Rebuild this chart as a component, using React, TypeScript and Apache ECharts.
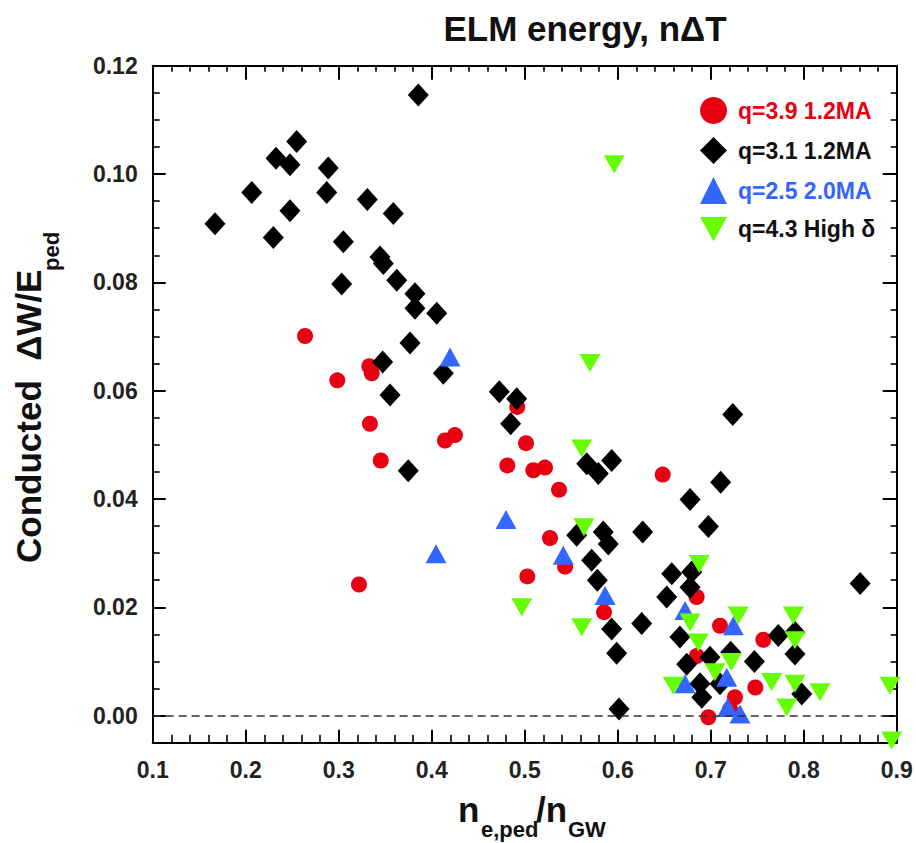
import React, { useEffect, useRef } from "react";
import * as echarts from "echarts";

const FONT = "'Liberation Sans', Arial, Helvetica, sans-serif";

const xTickLabels = ["0.1", "0.2", "0.3", "0.4", "0.5", "0.6", "0.7", "0.8", "0.9"];
const yMajorTicks = [0, 0.02, 0.04, 0.06, 0.08, 0.1, 0.12];
const yMinorTicks = [
  -0.005, 0.005, 0.01, 0.015, 0.025, 0.03, 0.035, 0.045, 0.05, 0.055, 0.065, 0.07,
  0.075, 0.085, 0.09, 0.095, 0.105, 0.11, 0.115,
];

const seriesNames = ["q=3.9 1.2MA", "q=3.1 1.2MA", "q=2.5 2.0MA", "q=4.3 High δ"];

// q=3.9 1.2MA (red circles)
const q39Points: [number, number][] = [
  [0.2638, 0.0701], [0.2985, 0.0619], [0.3329, 0.0645], [0.3355, 0.0632],
  [0.3336, 0.0539], [0.3452, 0.0471], [0.4143, 0.0508], [0.425, 0.0518],
  [0.3218, 0.0242], [0.492, 0.057], [0.5014, 0.0503], [0.4813, 0.0462],
  [0.5093, 0.0453], [0.5218, 0.0458], [0.5369, 0.0417], [0.6484, 0.0445],
  [0.5272, 0.0328], [0.5434, 0.0275], [0.5028, 0.0257], [0.5853, 0.0191],
  [0.6849, 0.0219], [0.71, 0.0166], [0.7566, 0.014], [0.685, 0.011],
  [0.7261, 0.0034], [0.748, 0.0052], [0.6975, -0.0003], [0.7208, 0.0012],
];

// q=3.1 1.2MA (black diamonds)
const q31Points: [number, number][] = [
  [0.3856, 0.1146], [0.2548, 0.106], [0.2326, 0.1029], [0.2476, 0.1017],
  [0.2888, 0.1011], [0.2065, 0.0966], [0.2871, 0.0966], [0.2476, 0.0932],
  [0.3308, 0.0953], [0.3587, 0.0927], [0.167, 0.0908], [0.2297, 0.0883],
  [0.305, 0.0875], [0.3444, 0.0847], [0.348, 0.0835], [0.3032, 0.0797],
  [0.3624, 0.0804], [0.382, 0.0779], [0.382, 0.0752], [0.4054, 0.0743],
  [0.3767, 0.0688], [0.3473, 0.0653], [0.4125, 0.0632], [0.3552, 0.0592],
  [0.3748, 0.0452], [0.4727, 0.0598], [0.4914, 0.0585], [0.4849, 0.0539],
  [0.7237, 0.0556], [0.5667, 0.0465], [0.5792, 0.0447], [0.5935, 0.0471],
  [0.7107, 0.0431], [0.6778, 0.0399], [0.6975, 0.0349], [0.6269, 0.0339],
  [0.5559, 0.0333], [0.5845, 0.0339], [0.5899, 0.0317], [0.572, 0.0287],
  [0.5781, 0.025], [0.5935, 0.016], [0.5989, 0.0115], [0.6258, 0.017],
  [0.6014, 0.0012], [0.6581, 0.0262], [0.6796, 0.0265], [0.6778, 0.0237],
  [0.6527, 0.0219], [0.6669, 0.0145], [0.6742, 0.0095], [0.6992, 0.0108],
  [0.7215, 0.0117], [0.747, 0.01], [0.6885, 0.0059], [0.71, 0.0059],
  [0.6904, 0.0034], [0.8607, 0.0244], [0.7727, 0.0148], [0.7906, 0.0154],
  [0.7906, 0.0114], [0.7979, 0.004],
];

// q=2.5 2.0MA (blue triangles)
const q25Points: [number, number][] = [
  [0.4197, 0.0662], [0.4046, 0.0299], [0.4799, 0.0362], [0.5415, 0.0296],
  [0.5864, 0.0222], [0.6724, 0.0194], [0.7243, 0.0166], [0.6724, 0.0059],
  [0.7172, 0.0071], [0.7182, 0.0015], [0.7315, 0.0003],
];

// q=4.3 High δ (green down triangles)
const q43Points: [number, number][] = [
  [0.5963, 0.1018], [0.5702, 0.0651], [0.5613, 0.0493], [0.5637, 0.0348],
  [0.6877, 0.028], [0.4968, 0.02], [0.5613, 0.0163], [0.6778, 0.0172],
  [0.7297, 0.0185], [0.6867, 0.0135], [0.7222, 0.0099], [0.7046, 0.008],
  [0.6598, 0.0055], [0.7656, 0.0062], [0.7888, 0.0185], [0.7906, 0.0139],
  [0.7906, 0.0059], [0.8175, 0.0043], [0.7817, 0.0015], [0.8928, 0.0055],
  [0.8946, -0.0046],
];

const RED = "#e60012";
const BLACK = "#000000";
const BLUE = "#3366ff";
const GREEN = "#66ff00";
const DOWN_TRI = "path://M0,0L20,0L10,18Z";

export default function App() {
  const ref = useRef<HTMLDivElement>(null);

  useEffect(() => {
    if (!ref.current) return;
    const chart = echarts.init(ref.current, undefined, { renderer: "svg" });

    const axisLineStyle = { color: "#000", width: 2 };
    const labelStyle = { fontFamily: FONT, fontSize: 23, fontWeight: "bold" as const, color: "#222" };

    const xBase = {
      type: "value" as const,
      min: 0.1,
      max: 0.9,
      interval: 0.1,
      axisLine: { show: true, onZero: false, lineStyle: axisLineStyle },
      splitLine: { show: false },
      minorSplitLine: { show: false },
    };

    const yBase = {
      type: "value" as const,
      min: -0.005,
      max: 0.12,
      splitLine: { show: false },
    };

    const option: any = {
      animation: false,
      backgroundColor: "#ffffff",
      grid: { left: 152.7, right: 19.3, top: 65.7, bottom: 100.3, containLabel: false },
      xAxis: [
        {
          ...xBase,
          position: "bottom",
          axisTick: { show: true, inside: true, length: 13, lineStyle: { color: "#000", width: 2 } },
          minorTick: { show: true, splitNumber: 5, length: 8, lineStyle: { color: "#000", width: 1.6 } },
          axisLabel: {
            show: true,
            margin: 16,
            ...labelStyle,
            formatter: (v: number) => xTickLabels[Math.round((v - 0.1) * 10)] ?? "",
          },
        },
        {
          ...xBase,
          position: "top",
          axisTick: { show: true, inside: true, length: 14, lineStyle: { color: "#000", width: 2 } },
          minorTick: { show: true, splitNumber: 5, length: 6, lineStyle: { color: "#000", width: 1.6 } },
          axisLabel: { show: false },
        },
      ],
      yAxis: [
        {
          ...yBase,
          position: "left",
          axisLine: { show: true, onZero: false, lineStyle: axisLineStyle },
          axisTick: { show: true, inside: true, length: 13, customValues: yMajorTicks, lineStyle: { color: "#000", width: 2 } },
          axisLabel: {
            show: true,
            margin: 15,
            customValues: yMajorTicks,
            ...labelStyle,
            formatter: (v: number) => v.toFixed(2),
          },
        },
        {
          ...yBase,
          position: "left",
          axisLine: { show: false },
          axisTick: { show: true, inside: true, length: 7, customValues: yMinorTicks, lineStyle: { color: "#000", width: 1.6 } },
          axisLabel: { show: false },
        },
        {
          ...yBase,
          position: "right",
          axisLine: { show: true, onZero: false, lineStyle: axisLineStyle },
          axisTick: { show: true, inside: true, length: 14, customValues: yMajorTicks, lineStyle: { color: "#000", width: 2 } },
          axisLabel: { show: false },
        },
        {
          ...yBase,
          position: "right",
          axisLine: { show: false },
          axisTick: { show: true, inside: true, length: 6, customValues: yMinorTicks, lineStyle: { color: "#000", width: 1.6 } },
          axisLabel: { show: false },
        },
      ],
      legend: {
        show: true,
        orient: "vertical",
        left: 695,
        top: 92,
        itemWidth: 27,
        itemHeight: 27,
        itemGap: 13,
        textStyle: { fontFamily: FONT, fontSize: 23, fontWeight: "bold", padding: [0, 0, 0, 6] },
        data: [
          { name: seriesNames[0], textStyle: { color: RED } },
          { name: seriesNames[1], textStyle: { color: "#111" } },
          { name: seriesNames[2], textStyle: { color: BLUE } },
          { name: seriesNames[3], textStyle: { color: "#111" } },
        ],
      },
      graphic: [
        {
          type: "text",
          x: 585,
          y: 28,
          style: {
            text: "ELM energy, nΔT",
            fontFamily: FONT,
            fontSize: 35,
            fontWeight: "bold",
            fill: "#111",
            align: "center",
            verticalAlign: "middle",
          },
        },
        {
          type: "group",
          x: 28.3,
          y: 563,
          rotation: Math.PI / 2,
          children: [
            {
              type: "text",
              x: 0,
              y: 0,
              style: {
                text: "Conducted  ΔW/E",
                fontFamily: FONT,
                fontSize: 35,
                fontWeight: "bold",
                fill: "#111",
                align: "left",
                verticalAlign: "middle",
              },
            },
            {
              type: "text",
              x: 292,
              y: 22.7,
              style: {
                text: "ped",
                fontFamily: FONT,
                fontSize: 22,
                fontWeight: "bold",
                fill: "#111",
                align: "left",
                verticalAlign: "middle",
              },
            },
          ],
        },
        {
          type: "text",
          x: 458,
          y: 809.5,
          style: { text: "n", fontFamily: FONT, fontSize: 35, fontWeight: "bold", fill: "#111", align: "left", verticalAlign: "middle" },
        },
        {
          type: "text",
          x: 481,
          y: 829.3,
          style: { text: "e,ped", fontFamily: FONT, fontSize: 22, fontWeight: "bold", fill: "#111", align: "left", verticalAlign: "middle" },
        },
        {
          type: "text",
          x: 536,
          y: 809.5,
          style: { text: "/n", fontFamily: FONT, fontSize: 35, fontWeight: "bold", fill: "#111", align: "left", verticalAlign: "middle" },
        },
        {
          type: "text",
          x: 568,
          y: 829.5,
          style: { text: "GW", fontFamily: FONT, fontSize: 22, fontWeight: "bold", fill: "#111", align: "left", verticalAlign: "middle" },
        },
      ],
      series: [
        {
          name: seriesNames[0],
          type: "scatter",
          clip: false,
          symbol: "circle",
          symbolSize: 16,
          itemStyle: { color: RED, opacity: 1 },
          data: q39Points,
          z: 2,
          markLine: {
            silent: true,
            symbol: ["none", "none"],
            label: { show: false },
            lineStyle: { type: [8, 5], color: "#333", width: 1.6, opacity: 1 },
            data: [{ yAxis: 0 }],
          },
        },
        {
          name: seriesNames[1],
          type: "scatter",
          clip: false,
          symbol: "diamond",
          symbolSize: [21, 23],
          itemStyle: { color: BLACK, opacity: 1 },
          data: q31Points,
          z: 3,
        },
        {
          name: seriesNames[2],
          type: "scatter",
          clip: false,
          symbol: "triangle",
          symbolSize: [21, 19],
          itemStyle: { color: BLUE, opacity: 1 },
          data: q25Points,
          z: 4,
        },
        {
          name: seriesNames[3],
          type: "scatter",
          clip: false,
          symbol: DOWN_TRI,
          symbolSize: [21, 18],
          itemStyle: { color: GREEN, opacity: 1 },
          data: q43Points,
          z: 5,
        },
      ],
    };

    chart.setOption(option);
    return () => chart.dispose();
  }, []);

  return (
    <div
      ref={ref}
      style={{ position: "absolute", left: 0, top: 0, width: 916, height: 843, background: "#fff" }}
    />
  );
}
